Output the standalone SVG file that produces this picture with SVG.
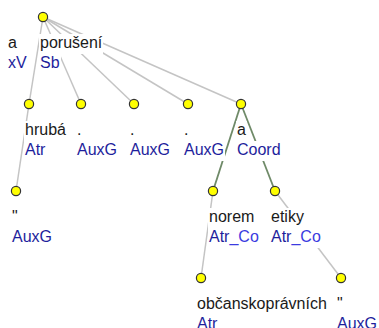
<svg xmlns="http://www.w3.org/2000/svg" width="379" height="328" viewBox="0 0 379 328">
<style>
.e{stroke:#c4c4c4;stroke-width:1.5;fill:none}
.c{stroke:#6f8a68;stroke-width:1.8;fill:none}
.bg{fill:#ffffff}
.nd{fill:#ffff00;stroke:#333333;stroke-width:1.2}
text{font-family:"Liberation Sans",Arial,sans-serif;font-size:16px}
.f{fill:#1a1a1a}
.a{fill:#1e1e9c}
.co{fill:#3b3be0}
</style>
<rect width="379" height="328" fill="#ffffff"/>
<g id="connectors">
<line class="e" x1="43" y1="17" x2="29" y2="104"/>
<line class="e" x1="43" y1="17" x2="81" y2="104"/>
<line class="e" x1="43" y1="17" x2="134" y2="104"/>
<line class="e" x1="43" y1="17" x2="188" y2="104"/>
<line class="e" x1="43" y1="17" x2="241" y2="104"/>
<line class="e" x1="29" y1="104" x2="16" y2="191"/>
<line class="c" x1="241" y1="104" x2="213" y2="191"/>
<line class="c" x1="241" y1="104" x2="275" y2="191"/>
<line class="e" x1="213" y1="191" x2="201" y2="278"/>
<line class="e" x1="275" y1="191" x2="341" y2="278"/>
</g>
<g id="label_a">
<rect class="bg" x="7" y="34" width="11" height="20"/>
<rect class="bg" x="7" y="54" width="21" height="20"/>
<text class="f" x="8" y="48">a</text>
<text class="a" x="8" y="68">xV</text>
</g>
<g id="root">
<rect class="bg" x="39" y="34" width="64" height="20"/>
<rect class="bg" x="39" y="54" width="22" height="20"/>
<text class="f" x="40" y="48">porušení</text>
<text class="a" x="40" y="68">Sb</text>
<circle class="nd" cx="43" cy="17" r="4.6"/>
</g>
<g id="n_hruba">
<rect class="bg" x="24" y="121" width="43" height="20"/>
<rect class="bg" x="24" y="141" width="23" height="20"/>
<text class="f" x="25" y="135">hrubá</text>
<text class="a" x="25" y="155">Atr</text>
<circle class="nd" cx="29" cy="104" r="4.6"/>
</g>
<g id="n_quote1">
<rect class="bg" x="11" y="208" width="8" height="20"/>
<rect class="bg" x="11" y="228" width="42" height="20"/>
<text class="f" x="12" y="222">"</text>
<text class="a" x="12" y="242">AuxG</text>
<circle class="nd" cx="16" cy="191" r="4.6"/>
</g>
<g id="n_dot1">
<rect class="bg" x="76" y="121" width="7" height="20"/>
<rect class="bg" x="76" y="141" width="42" height="20"/>
<text class="f" x="77" y="135">.</text>
<text class="a" x="77" y="155">AuxG</text>
<circle class="nd" cx="81" cy="104" r="4.6"/>
</g>
<g id="n_dot2">
<rect class="bg" x="129" y="121" width="7" height="20"/>
<rect class="bg" x="129" y="141" width="42" height="20"/>
<text class="f" x="130" y="135">.</text>
<text class="a" x="130" y="155">AuxG</text>
<circle class="nd" cx="134" cy="104" r="4.6"/>
</g>
<g id="n_dot3">
<rect class="bg" x="183" y="121" width="7" height="20"/>
<rect class="bg" x="183" y="141" width="42" height="20"/>
<text class="f" x="184" y="135">.</text>
<text class="a" x="184" y="155">AuxG</text>
<circle class="nd" cx="188" cy="104" r="4.6"/>
</g>
<g id="n_coord">
<rect class="bg" x="236" y="121" width="11" height="20"/>
<rect class="bg" x="236" y="141" width="46" height="20"/>
<text class="f" x="237" y="135">a</text>
<text class="a" x="237" y="155">Coord</text>
<circle class="nd" cx="241" cy="104" r="4.6"/>
</g>
<g id="n_norem">
<rect class="bg" x="208" y="208" width="47" height="20"/>
<rect class="bg" x="208" y="228" width="52" height="20"/>
<text class="f" x="209" y="222">norem</text>
<text class="a" x="209" y="242">Atr<tspan class="co">_Co</tspan></text>
<circle class="nd" cx="213" cy="191" r="4.6"/>
</g>
<g id="n_etiky">
<rect class="bg" x="270" y="208" width="35" height="20"/>
<rect class="bg" x="270" y="228" width="52" height="20"/>
<text class="f" x="271" y="222">etiky</text>
<text class="a" x="271" y="242">Atr<tspan class="co">_Co</tspan></text>
<circle class="nd" cx="275" cy="191" r="4.6"/>
</g>
<g id="n_obcanskopravnich">
<rect class="bg" x="196" y="295" width="131" height="20"/>
<rect class="bg" x="196" y="315" width="23" height="20"/>
<text class="f" x="197" y="309">občanskoprávních</text>
<text class="a" x="197" y="329">Atr</text>
<circle class="nd" cx="201" cy="278" r="4.6"/>
</g>
<g id="n_quote2">
<rect class="bg" x="336" y="295" width="8" height="20"/>
<rect class="bg" x="336" y="315" width="42" height="20"/>
<text class="f" x="337" y="309">"</text>
<text class="a" x="337" y="329">AuxG</text>
<circle class="nd" cx="341" cy="278" r="4.6"/>
</g>
</svg>
